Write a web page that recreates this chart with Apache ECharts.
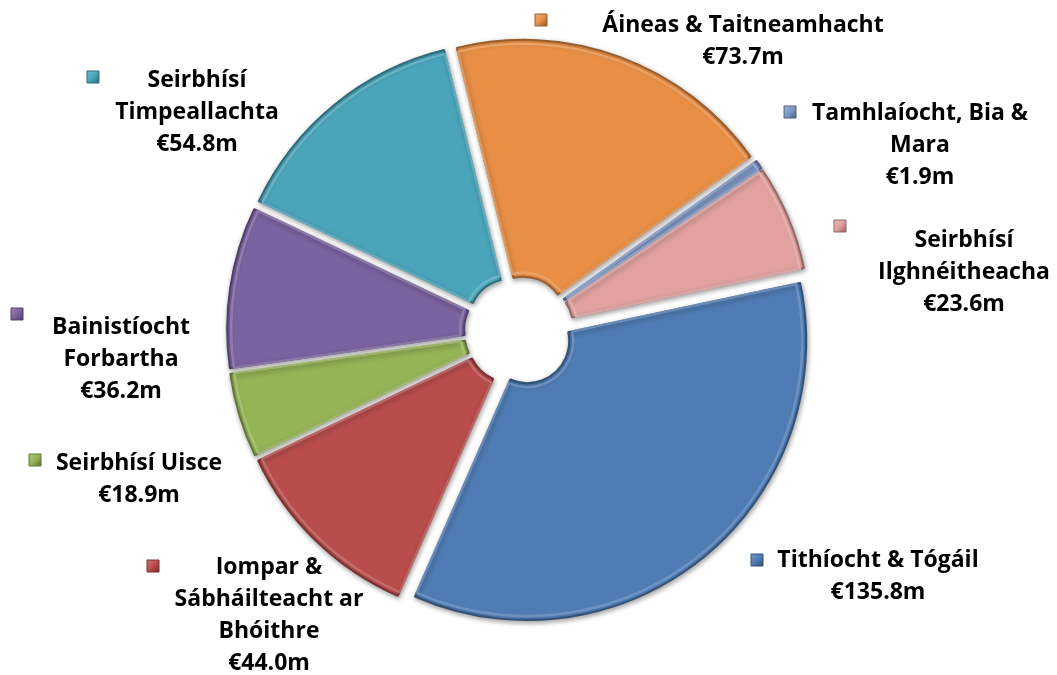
<!DOCTYPE html>
<html>
<head>
<meta charset="utf-8">
<script src="https://cdn.jsdelivr.net/npm/echarts@6/dist/echarts.min.js"></script>
<style>
html,body{margin:0;padding:0;background:#fff;}
#chart{width:1057px;height:675px;}
</style>
</head>
<body>
<div id="chart"></div>
<script>
// ---- data ----
const categories = [
  'Tithíocht & Tógáil',
  'Iompar &\nSábháilteacht ar\nBhóithre',
  'Seirbhísí Uisce',
  'Bainistíocht\nForbartha',
  'Seirbhísí\nTimpeallachta',
  'Áineas & Taitneamhacht',
  'Tamhlaíocht, Bia &\nMara',
  'Seirbhísí\nIlghnéitheacha'
];
const values = [135.8, 44.0, 18.9, 36.2, 54.8, 73.7, 1.9, 23.6];
const colors = ['#4f7cb4', '#b94d4b', '#95b456', '#7b62a0', '#4aa5bb', '#e88f45', '#7f99c6', '#e0a19f'];

// ---- layout (label centre x, first-line centre y; marker centre x/y) ----
const labelPos = [
  [878, 560], [269, 567], [139, 463], [121, 327],
  [197, 80], [743, 25], [920, 113], [964, 240]
];
const markerPos = [
  [757, 560], [153, 566], [35, 460], [17, 314],
  [93, 77], [541, 20], [790, 112], [840, 226]
];
const LINE_H = 32;

function shade(hex, f) {
  const n = parseInt(hex.slice(1), 16);
  let r = (n >> 16) & 255, g = (n >> 8) & 255, b = n & 255;
  const m = c => Math.max(0, Math.min(255, Math.round(f < 0 ? c * (1 + f) : c + (255 - c) * f)));
  return 'rgb(' + m(r) + ',' + m(g) + ',' + m(b) + ')';
}

const chart = echarts.init(document.getElementById('chart'), null, {renderer: 'canvas'});

const baseData = categories.map((name, i) => ({
  name: name,
  value: values[i],
  selected: true,
  itemStyle: {
    color: colors[i],
    borderColor: shade(colors[i], -0.35),
    borderWidth: 2,
    shadowBlur: 5,
    shadowColor: 'rgba(0,0,0,0.35)',
    shadowOffsetX: 1,
    shadowOffsetY: 2
  }
}));
const hiData = categories.map((name, i) => ({
  name: name,
  value: values[i],
  selected: true,
  itemStyle: {
    color: 'rgba(0,0,0,0)',
    borderColor: shade(colors[i], 0.22),
    borderWidth: 2.5,
    opacity: 0.8
  }
}));

const graphics = [];
markerPos.forEach((p, i) => {
  graphics.push({
    type: 'rect',
    shape: {x: p[0] - 6, y: p[1] - 6, width: 12, height: 12},
    style: {
      fill: {
        type: 'linear', x: 0, y: 0, x2: 1, y2: 1,
        colorStops: [
          {offset: 0, color: shade(colors[i], 0.25)},
          {offset: 0.5, color: colors[i]},
          {offset: 1, color: shade(colors[i], -0.4)}
        ]
      },
      stroke: shade(colors[i], -0.35),
      lineWidth: 1
    },
    z: 10
  });
});
labelPos.forEach((p, i) => {
  graphics.push({
    type: 'text',
    x: p[0],
    y: p[1] - LINE_H / 2,
    style: {
      text: categories[i] + '\n€' + values[i].toFixed(1) + 'm',
      fill: '#000',
      fontFamily: 'Open Sans',
      fontWeight: 'bold',
      fontSize: 23,
      lineHeight: LINE_H,
      align: 'center',
      verticalAlign: 'top'
    },
    z: 10
  });
});

const common = {
  type: 'pie',
  center: [519, 331],
  startAngle: 12,
  clockwise: true,
  selectedMode: 'multiple',
  selectedOffset: 13,
  avoidLabelOverlap: false,
  emphasis: {disabled: true},
  label: {show: false},
  labelLine: {show: false}
};

chart.setOption({
  backgroundColor: '#ffffff',
  animation: false,
  graphic: graphics,
  series: [
    Object.assign({}, common, {radius: [42, 279], data: baseData}),
    Object.assign({}, common, {radius: [46, 275], silent: true, data: hiData})
  ]
});
</script>
</body>
</html>
